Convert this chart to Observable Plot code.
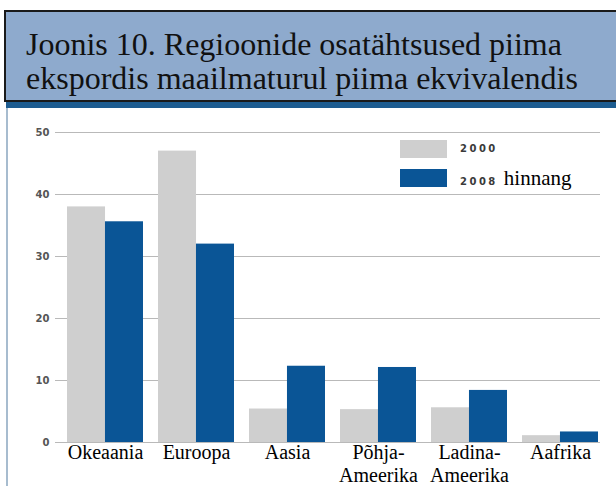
<!DOCTYPE html>
<html><head><meta charset="utf-8">
<script src="https://cdn.jsdelivr.net/npm/d3@7"></script>
<script src="https://cdn.jsdelivr.net/npm/@observablehq/plot@0.6"></script>
<style>
html,body{margin:0;padding:0;}
body{width:616px;height:486px;overflow:hidden;background:#fff;position:relative;font-family:"Liberation Serif","Times New Roman",serif;}
#title{position:absolute;left:4px;top:10px;width:640px;height:88px;background:#8eaacd;border:2px solid #1a1a1a;box-sizing:content-box;
  font-size:32px;color:#111;padding:0;}
#title .txt{position:absolute;left:20px;top:15px;white-space:nowrap;}
#title .txt div{line-height:34px;height:34px;}
#strip{position:absolute;left:6px;top:102px;width:610px;height:6px;background:#1d5c90;}
#chart{position:absolute;left:0;top:108px;width:616px;height:378px;}
#lborder{position:absolute;left:6px;top:108px;width:2px;height:378px;background:#a7bccf;}
#legend{position:absolute;left:400px;top:140px;}
.lrow{position:absolute;left:0;height:18px;white-space:nowrap;}
.sw{position:absolute;left:0;top:0;width:47px;height:18px;}
.lab{position:absolute;left:60px;top:0;line-height:18px;font-family:"DejaVu Sans",sans-serif;font-weight:bold;font-size:10px;letter-spacing:2.5px;color:#3a3a3a;}
.lab .ser{font-family:"Liberation Serif",serif;font-weight:normal;font-size:21px;letter-spacing:0;color:#000;}
</style>
</head><body>
<div id="title"><div class="txt"></div></div>
<div id="strip"></div>
<div id="chart"></div>
<div id="lborder"></div>
<div id="legend"></div>
<script>
const titleLines = ["Joonis 10. Regioonide osatähtsused piima", "ekspordis maailmaturul piima ekvivalendis"];
const categories = ["Okeaania", "Euroopa", "Aasia", "Põhja-\nAmeerika", "Ladina-\nAmeerika", "Aafrika"];
const values2000 = [38, 47, 5.4, 5.3, 5.6, 1.1];
const values2008 = [35.6, 32, 12.3, 12.1, 8.4, 1.7];
const seriesNames = ["2000", "2008"];
const seriesSuffix = ["", "hinnang"];
const seriesColors = ["#cfcfcf", "#0a5596"];
const yTicks = [0, 10, 20, 30, 40, 50];

document.querySelector("#title .txt").innerHTML = titleLines.map(t => `<div>${t}</div>`).join("");

const rows = categories.map((c, i) => ({cat: c, v2000: values2000[i], v2008: values2008[i]}));

const xRange = [58, 607];
const paddingInner = 0.17, paddingOuter = 0.085;
const step = (xRange[1] - xRange[0]) / (categories.length - paddingInner + 2 * paddingOuter);
const half = step * (1 - paddingInner) / 2;

const chart = Plot.plot({
  width: 616,
  height: 378,
  marginTop: 24,
  marginBottom: 44,
  marginLeft: 60,
  marginRight: 16,
  style: {background: "transparent", overflow: "visible"},
  x: {type: "band", domain: categories, range: xRange, paddingInner, paddingOuter, align: 0.5},
  y: {domain: [0, 50]},
  marks: [
    Plot.gridY(yTicks, {stroke: "#b9b9b9", strokeOpacity: 1, strokeWidth: 1.2}),
    Plot.barY(rows, {x: "cat", y: "v2000", fill: seriesColors[0], insetRight: half}),
    Plot.barY(rows, {x: "cat", y: "v2008", fill: seriesColors[1], insetLeft: half}),
    Plot.axisY(yTicks, {tickSize: 5, tickPadding: 6, stroke: "#b9b9b9", label: null,
      fontSize: 10, fontWeight: "bold", fontFamily: "DejaVu Sans, sans-serif", fill: "#555",
      tickFormat: d => String(d)}),
    Plot.axisX({tickSize: 0, tickPadding: 1, label: null, fontSize: 20,
      fontFamily: "Liberation Serif, Times New Roman, serif", fill: "#000", lineHeight: 1.12})
  ]
});
document.getElementById("chart").appendChild(chart);

const legend = document.getElementById("legend");
seriesNames.forEach((name, i) => {
  const row = document.createElement("div");
  row.className = "lrow";
  row.style.top = (i * 29) + "px";
  row.innerHTML = `<div class="sw" style="background:${seriesColors[i]}"></div>` +
    `<div class="lab">${name}${seriesSuffix[i] ? ' <span class="ser">' + seriesSuffix[i] + '</span>' : ''}</div>`;
  legend.appendChild(row);
});
</script>
</body></html>
